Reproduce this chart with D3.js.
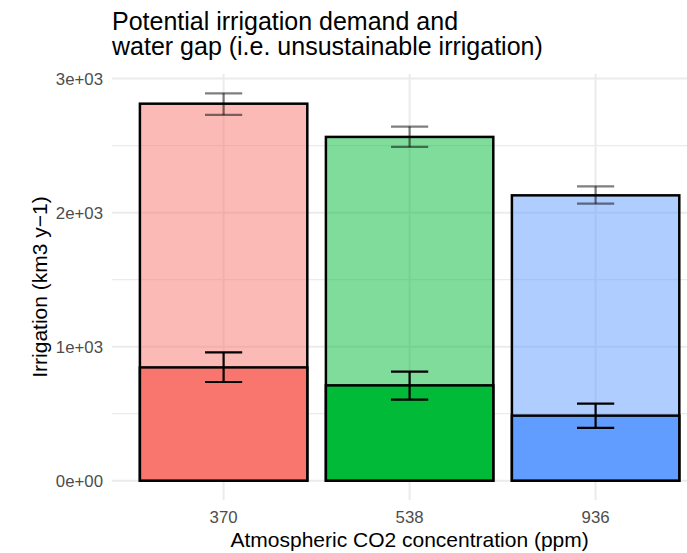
<!DOCTYPE html>
<html>
<head>
<meta charset="utf-8">
<script src="https://cdn.jsdelivr.net/npm/d3@7"></script>
<style>
  body { margin: 0; background: #fff; }
  svg { display: block; font-family: "Liberation Sans", Arial, sans-serif; }
</style>
</head>
<body>
<svg width="687" height="553"></svg>
<script>
// CO2 levels (ppm) and irrigation values (km3 / y)
var co2 = ["370", "538", "936"];
var demand = [2813, 2565, 2129];
var demandLow = [2729, 2490, 2067];
var demandHigh = [2890, 2642, 2196];
var gap = [845, 711, 485];
var gapLow = [736, 604, 393];
var gapHigh = [957, 813, 575];
var colors = ["#F8766D", "#00BA38", "#619CFF"];
var yTicks = [0, 1000, 2000, 3000];
var yMinor = [500, 1500, 2500];

var svg = d3.select("svg"),
  panelLeft = 112,
  panelRight = 687,
  panelTop = 74,
  panelBottom = 500;

var step = 186;
// ggplot style discrete expansion: 0.6 of a step around the outer bars
var x = d3
  .scaleBand()
  .domain(co2)
  .range([panelLeft, panelLeft + step * 3.2])
  .paddingOuter(0.1)
  .paddingInner(0);
var bw = step * 0.9;

var y = d3
  .scaleLinear()
  .domain([-144.5, 3034.5])
  .range([panelBottom, panelTop]);

function cx(i) {
  return x(co2[i]) + x.bandwidth() / 2;
}

// grid
var grid = svg.append("g");
grid
  .selectAll(".minor")
  .data(yMinor)
  .enter()
  .append("line")
  .attr("x1", panelLeft)
  .attr("x2", panelRight)
  .attr("y1", function(d) { return y(d); })
  .attr("y2", function(d) { return y(d); })
  .attr("stroke", "#EBEBEB")
  .attr("stroke-width", 1.1);
grid
  .selectAll(".major")
  .data(yTicks)
  .enter()
  .append("line")
  .attr("x1", panelLeft)
  .attr("x2", panelRight)
  .attr("y1", function(d) { return y(d); })
  .attr("y2", function(d) { return y(d); })
  .attr("stroke", "#EBEBEB")
  .attr("stroke-width", 2);
grid
  .selectAll(".vmajor")
  .data(co2)
  .enter()
  .append("line")
  .attr("x1", function(d, i) { return cx(i); })
  .attr("x2", function(d, i) { return cx(i); })
  .attr("y1", panelTop)
  .attr("y2", panelBottom)
  .attr("stroke", "#EBEBEB")
  .attr("stroke-width", 2);

// potential demand bars (transparent)
svg
  .append("g")
  .selectAll("rect")
  .data(demand)
  .enter()
  .append("rect")
  .attr("x", function(d, i) { return cx(i) - bw / 2; })
  .attr("width", bw)
  .attr("y", function(d) { return y(d); })
  .attr("height", function(d) { return y(0) - y(d); })
  .attr("fill", function(d, i) { return colors[i]; })
  .attr("fill-opacity", 0.5)
  .attr("stroke", "#000")
  .attr("stroke-width", 2.5);

function errorBars(lo, hi, stroke) {
  var g = svg.append("g").attr("stroke", stroke).attr("stroke-width", 2.2);
  var cap = step * 0.2 / 2;
  lo.forEach(function(l, i) {
    var h = hi[i];
    g.append("line")
      .attr("x1", cx(i)).attr("x2", cx(i))
      .attr("y1", y(l)).attr("y2", y(h));
    g.append("line")
      .attr("x1", cx(i) - cap).attr("x2", cx(i) + cap)
      .attr("y1", y(l)).attr("y2", y(l));
    g.append("line")
      .attr("x1", cx(i) - cap).attr("x2", cx(i) + cap)
      .attr("y1", y(h)).attr("y2", y(h));
  });
}

errorBars(demandLow, demandHigh, "rgba(0,0,0,0.5)");

// water gap bars
svg
  .append("g")
  .selectAll("rect")
  .data(gap)
  .enter()
  .append("rect")
  .attr("x", function(d, i) { return cx(i) - bw / 2; })
  .attr("width", bw)
  .attr("y", function(d) { return y(d); })
  .attr("height", function(d) { return y(0) - y(d); })
  .attr("fill", function(d, i) { return colors[i]; })
  .attr("stroke", "#000")
  .attr("stroke-width", 2.5);

errorBars(gapLow, gapHigh, "#000");

// axes labels
svg
  .append("g")
  .selectAll("text")
  .data(yTicks)
  .enter()
  .append("text")
  .attr("x", 103)
  .attr("y", function(d) { return y(d); })
  .attr("dy", "0.36em")
  .attr("text-anchor", "end")
  .attr("font-size", 16.8)
  .attr("fill", "#4D4D4D")
  .text(function(d) { return d === 0 ? "0e+00" : d / 1000 + "e+03"; });

svg
  .append("g")
  .selectAll("text")
  .data(co2)
  .enter()
  .append("text")
  .attr("x", function(d, i) { return cx(i); })
  .attr("y", 523)
  .attr("text-anchor", "middle")
  .attr("font-size", 16.8)
  .attr("fill", "#4D4D4D")
  .text(function(d) { return d; });

svg
  .append("text")
  .attr("x", cx(1))
  .attr("y", 547)
  .attr("text-anchor", "middle")
  .attr("font-size", 21)
  .attr("fill", "#000")
  .text("Atmospheric CO2 concentration (ppm)");

svg
  .append("text")
  .attr("transform", "translate(47," + (panelTop + panelBottom) / 2 + ") rotate(-90)")
  .attr("text-anchor", "middle")
  .attr("font-size", 21)
  .attr("fill", "#000")
  .text("Irrigation (km3 y\u22121)");

var title = svg.append("text").attr("font-size", 25).attr("fill", "#000");
title.append("tspan").attr("x", panelLeft).attr("y", 30).text("Potential irrigation demand and");
title.append("tspan").attr("x", panelLeft).attr("y", 55).text("water gap (i.e. unsustainable irrigation)");
</script>
</body>
</html>
